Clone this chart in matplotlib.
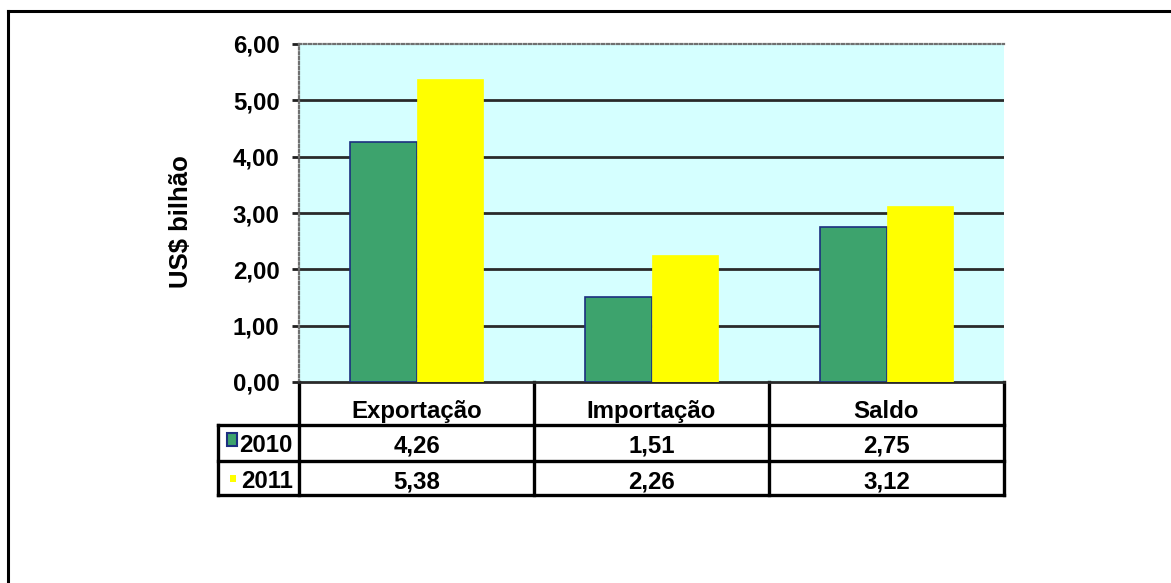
import numpy as np
import matplotlib
matplotlib.use("Agg")
import matplotlib.pyplot as plt
from matplotlib.patches import Rectangle
from matplotlib.lines import Line2D
import matplotlib.transforms as mtransforms
import matplotlib.ticker as ticker

categorias = ["Exportação", "Importação", "Saldo"]
anos = ["2010", "2011"]
v2010 = [4.26, 1.51, 2.75]
v2011 = [5.38, 2.26, 3.12]

cor_2010 = "#3da36d"
borda_2010 = "#1c2f80"
cor_2011 = "#ffff00"
fundo = "#d5ffff"

plt.rcParams["font.family"] = ["Liberation Sans", "DejaVu Sans"]
plt.rcParams["font.weight"] = "bold"
fs = 17.3

W, H = 1171, 583
fig = plt.figure(figsize=(W / 100, H / 100), dpi=100)
ax_l, ax_b, ax_r, ax_t = 299, 382, 1004, 44
ax = fig.add_axes([ax_l / W, 1 - ax_b / H, (ax_r - ax_l) / W, (ax_b - ax_t) / H])
ax.set_facecolor(fundo)


def py(p):
    # pixel (de cima para baixo) -> fracao vertical do eixo
    return (ax_b - p) / (ax_b - ax_t)


def px(p):
    return (p - ax_l) / (ax_r - ax_l)


# moldura externa (so topo e esquerda aparecem)
fig.add_artist(Line2D([8 / W, 8 / W], [0, 1 - 11 / H], transform=fig.transFigure,
                      color="black", lw=2.2))
fig.add_artist(Line2D([8 / W, 1], [1 - 11 / H, 1 - 11 / H], transform=fig.transFigure,
                      color="black", lw=2.2))

x = np.arange(len(categorias)) + 0.5
w = 0.285
ax.bar(x - w / 2, v2010, w, color=cor_2010, edgecolor=borda_2010, linewidth=1.2, zorder=3)
ax.bar(x + w / 2, v2011, w, color=cor_2011, edgecolor=cor_2011, linewidth=0.5, zorder=3)

ax.set_xlim(0, len(categorias))
ax.set_ylim(0, 6)
ax.set_yticks(np.arange(0, 7, 1))
ax.yaxis.set_major_formatter(ticker.FuncFormatter(lambda v, p: ("%.2f" % v).replace(".", ",")))
ax.set_xticks([])
for yv in range(1, 6):
    ax.axhline(yv, color="#2a2a2a", lw=2.0, zorder=1)

for lado in ("left", "top"):
    ax.spines[lado].set_linestyle((0, (1, 1.2)))
    ax.spines[lado].set_color("#707070")
    ax.spines[lado].set_linewidth(1.6)
ax.spines["right"].set_visible(False)
ax.spines["bottom"].set_color("#2a2a2a")
ax.spines["bottom"].set_linewidth(2)
ax.tick_params(axis="y", direction="out", length=5, width=2, color="#202020",
               labelsize=fs, pad=9)
for t in ax.get_yticklabels():
    t.set_fontweight("bold")

ax.set_ylabel("US$ bilhão", fontsize=fs + 1.2, fontweight="bold")
ax.yaxis.set_label_coords(px(193), py(222))

# tabela de dados abaixo do grafico
trans = mtransforms.blended_transform_factory(ax.transData, ax.transAxes)
linhas_y = [382, 425, 461, 495]
n = len(categorias)
kw = dict(color="black", lw=2.4, clip_on=False, solid_capstyle="projecting")
for k in range(n + 1):
    ax.plot([k, k], [py(linhas_y[0]), py(linhas_y[-1])], transform=trans, **kw)
for yy in linhas_y[1:]:
    ax.plot([px(218), px(ax_r)], [py(yy), py(yy)], transform=ax.transAxes, **kw)
ax.plot([px(218), px(218)], [py(linhas_y[1]), py(linhas_y[-1])], transform=ax.transAxes, **kw)

for k, nome in enumerate(categorias):
    ax.text(k + 0.5, py(418), nome, transform=trans, ha="center", va="baseline",
            fontsize=fs, fontweight="bold")
base_linhas = [452, 488]
for serie, ano, yb in zip((v2010, v2011), anos, base_linhas):
    for k, v in enumerate(serie):
        ax.text(k + 0.5, py(yb), ("%.2f" % v).replace(".", ","), transform=trans,
                ha="center", va="baseline", fontsize=fs, fontweight="bold")
    ax.text(px(293), py(yb), ano, transform=ax.transAxes, ha="right", va="baseline",
            fontsize=fs, fontweight="bold")

# marcadores da legenda nas linhas da tabela
ax.add_patch(Rectangle((px(227), py(446)), px(237) - px(227), py(433) - py(446),
                       transform=ax.transAxes, facecolor=cor_2010, edgecolor=borda_2010,
                       lw=1.5, clip_on=False, zorder=5))
ax.add_patch(Rectangle((px(230), py(482)), px(236) - px(230), py(475) - py(482),
                       transform=ax.transAxes, facecolor=cor_2011, edgecolor="none",
                       clip_on=False, zorder=5))

fig.savefig("out.png", dpi=100, facecolor="white")
